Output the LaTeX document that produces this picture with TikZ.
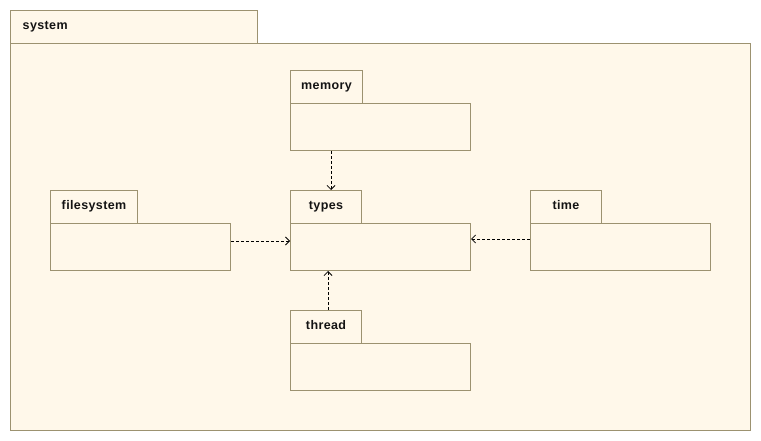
\documentclass[tikz,border=0pt]{standalone}
\usepackage{fontspec}
\setmainfont{Liberation Sans}
\newfontfamily\lblfont{Liberation Sans}[LetterSpace=3]
\usetikzlibrary{arrows.meta,calc}
\definecolor{pkgfill}{HTML}{FFF8EA}
\definecolor{pkgline}{HTML}{9C9270}
\begin{document}
\begin{tikzpicture}[x=1pt,y=-1pt,
  pkg/.style={draw=pkgline,fill=pkgfill,line width=1pt,inner sep=0pt,anchor=north west,rectangle},
  lbl/.style={font=\lblfont\bfseries\fontsize{12.5}{14}\selectfont,text=black!92,inner sep=0pt,anchor=base},
  dep/.style={draw=black,line width=0.8pt,dash pattern=on 3pt off 2pt,-{Straight Barb[length=4pt,width=8pt,line width=0.8pt]}}]
\useasboundingbox (0,0) rectangle (761,441);
% system package
\node[pkg,minimum width=247pt,minimum height=33pt] (sysT) at (10,10) {};
\node[pkg,minimum width=740pt,minimum height=387pt] (sysB) at (10,43) {};
\node[lbl,anchor=base west] (sysL) at (22.5,30) {system};
% sub packages
\node[pkg,minimum width=72pt,minimum height=33pt] (memT) at (290,70) {};
\node[pkg,minimum width=180pt,minimum height=47pt] (memB) at (290,103) {};
\node[lbl] (memL) at ($(memT.north)+(0,19.5)$) {memory};
\node[pkg,minimum width=71pt,minimum height=33pt] (typT) at (290,190) {};
\node[pkg,minimum width=180pt,minimum height=47pt] (typB) at (290,223) {};
\node[lbl] (typL) at ($(typT.north)+(0,19.5)$) {types};
\node[pkg,minimum width=87pt,minimum height=33pt] (fsT) at (50,190) {};
\node[pkg,minimum width=180pt,minimum height=47pt] (fsB) at (50,223) {};
\node[lbl] (fsL) at ($(fsT.north)+(0,19.5)$) {filesystem};
\node[pkg,minimum width=71pt,minimum height=33pt] (timT) at (530,190) {};
\node[pkg,minimum width=180pt,minimum height=47pt] (timB) at (530,223) {};
\node[lbl] (timL) at ($(timT.north)+(0,19.5)$) {time};
\node[pkg,minimum width=71pt,minimum height=33pt] (thrT) at (290,310) {};
\node[pkg,minimum width=180pt,minimum height=47pt] (thrB) at (290,343) {};
\node[lbl] (thrL) at ($(thrT.north)+(0,19.5)$) {thread};
% dependencies
\coordinate (m1) at ($(memB.south west)+(41,0)$);
\draw[dep] (m1) -- (m1 |- typT.north);
\coordinate (f1) at ($(fsB.north east)+(0,18)$);
\draw[dep] (f1) -- (f1 -| typB.west);
\coordinate (t1) at ($(timB.north west)+(0,16)$);
\draw[dep] (t1) -- (t1 -| typB.east);
\coordinate (h1) at ($(thrT.north west)+(38,0)$);
\draw[dep] (h1) -- (h1 |- typB.south);
\end{tikzpicture}
\end{document}
